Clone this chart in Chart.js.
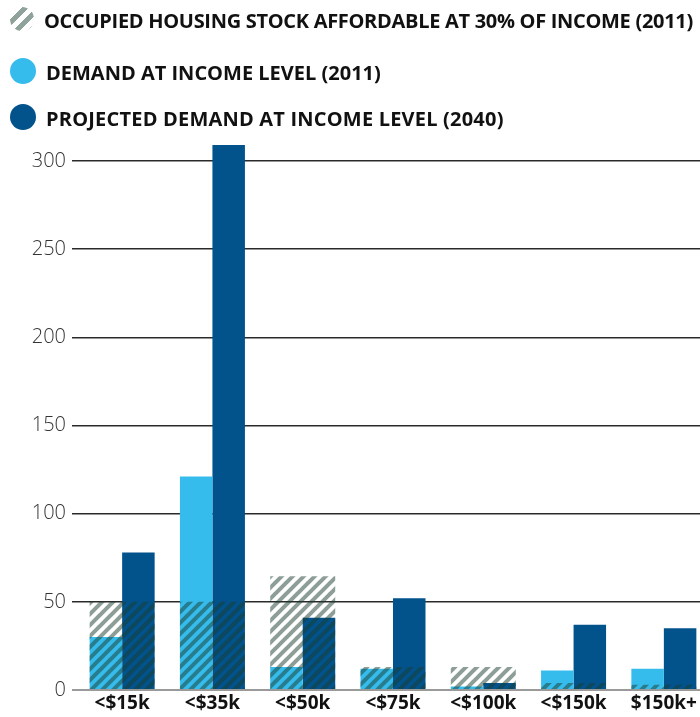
<!DOCTYPE html>
<html>
<head>
<meta charset="utf-8">
<script src="https://cdn.jsdelivr.net/npm/chart.js@4"></script>
<style>
    html, body { margin: 0; padding: 0; background: #fff; overflow: hidden; }
    #wrap { position: relative; width: 700px; height: 717px; overflow: hidden; }
    #chartBox { position: absolute; left: 0; top: 0; width: 710px; height: 717px; }
    .legend { position: absolute; left: 0; top: 0; font-family: 'Open Sans', sans-serif; font-weight: 700; font-size: 20px; color: #111; }
    .legend .item { position: absolute; left: 10px; white-space: nowrap; height: 26px; line-height: 26px; }
    .legend .icon { position: absolute; left: 0; top: 0; width: 26px; height: 26px; }
    .legend .text { position: absolute; left: 36px; top: 1px; }
    .dot { border-radius: 50%; }
    .hatch { border-radius: 50%; background: repeating-linear-gradient(-45deg, #8fa39a 0 5px, #fff 5px 10px); }
</style>
</head>
<body>
<div id="wrap">
    <div id="chartBox"><canvas id="housingChart"></canvas></div>
    <div class="legend">
        <div class="item" style="top:7px"><span class="icon hatch" style="width:24px;height:24px"></span><span class="text" style="left:34px;letter-spacing:-0.3px">OCCUPIED HOUSING STOCK AFFORDABLE AT 30% OF INCOME (2011)</span></div>
        <div class="item" style="top:58px"><span class="icon dot" style="background:#35bced"></span><span class="text" style="top:2px">DEMAND AT INCOME LEVEL (2011)</span></div>
        <div class="item" style="top:104px"><span class="icon dot" style="background:#02528c"></span><span class="text" style="top:2px;letter-spacing:0.2px">PROJECTED DEMAND AT INCOME LEVEL (2040)</span></div>
    </div>
</div>
<script>
    // Income brackets and values (thousands of households)
    const categories = ['<$15k', '<$35k', '<$50k', '<$75k', '<$100k', '<$150k', '$150k+'];
    const housingStock2011 = [50, 50, 64.5, 13, 13, 4, 3];
    const demand2011 = [30, 121, 13, 12, 2, 11, 12];
    const demand2040 = [78, 309, 41, 52, 4, 37, 35];
    const yTicks = [0, 50, 100, 150, 200, 250, 300];

    // Diagonal stripe pattern for the housing stock overlay
    function makeHatch() {
        const size = 11;
        const c = document.createElement('canvas');
        c.width = size;
        c.height = size;
        const g = c.getContext('2d');
        g.strokeStyle = 'rgba(25, 62, 45, 0.5)';
        g.lineWidth = 4;
        g.lineCap = 'square';
        [-size, 0, size].forEach(function (off) {
            g.beginPath();
            g.moveTo(off, size);
            g.lineTo(off + size, 0);
            g.stroke();
        });
        return g.createPattern(c, 'repeat');
    }

    const ctx = document.getElementById('housingChart').getContext('2d');
    new Chart(ctx, {
        type: 'bar',
        data: {
            labels: categories,
            datasets: [
                {
                    // overlay spans the whole group, not grouped with the demand bars
                    label: 'Occupied housing stock affordable at 30% of income (2011)',
                    data: housingStock2011,
                    backgroundColor: makeHatch(),
                    grouped: false,
                    order: 0,
                    categoryPercentage: 0.72,
                    barPercentage: 1
                },
                {
                    label: 'Demand at income level (2011)',
                    data: demand2011,
                    backgroundColor: '#35bced',
                    order: 1,
                    categoryPercentage: 0.72,
                    barPercentage: 1
                },
                {
                    label: 'Projected demand at income level (2040)',
                    data: demand2040,
                    backgroundColor: '#02528c',
                    order: 1,
                    categoryPercentage: 0.72,
                    barPercentage: 1
                }
            ]
        },
        options: {
            responsive: true,
            maintainAspectRatio: false,
            animation: false,
            layout: {
                padding: { top: 125.7, left: 0, right: 1, bottom: 0 }
            },
            plugins: {
                legend: { display: false },
                tooltip: { enabled: false }
            },
            scales: {
                x: {
                    offset: true,
                    grid: { display: false, drawTicks: false },
                    border: { display: false },
                    ticks: {
                        color: '#111',
                        padding: 2,
                        font: { family: "'Open Sans', sans-serif", size: 19, weight: 'bold' }
                    },
                    afterFit: function (axis) {
                        axis.height = 27;
                    }
                },
                y: {
                    min: 0,
                    max: 320,
                    border: { display: false },
                    afterBuildTicks: function (axis) {
                        axis.ticks = yTicks.map(function (v) { return { value: v }; });
                    },
                    afterFit: function (axis) {
                        axis.width = 77;
                    },
                    grid: {
                        drawTicks: true,
                        tickLength: 5,
                        color: function (c) {
                            return c.tick && c.tick.value === 0 ? '#9a9a9a' : '#2a2a2a';
                        },
                        lineWidth: function (c) {
                            return c.tick && c.tick.value === 0 ? 2 : 1.5;
                        }
                    },
                    ticks: {
                        color: '#333',
                        padding: 6,
                        font: { family: "'Open Sans', sans-serif", size: 20, weight: 300 }
                    }
                }
            }
        }
    });
</script>
</body>
</html>
